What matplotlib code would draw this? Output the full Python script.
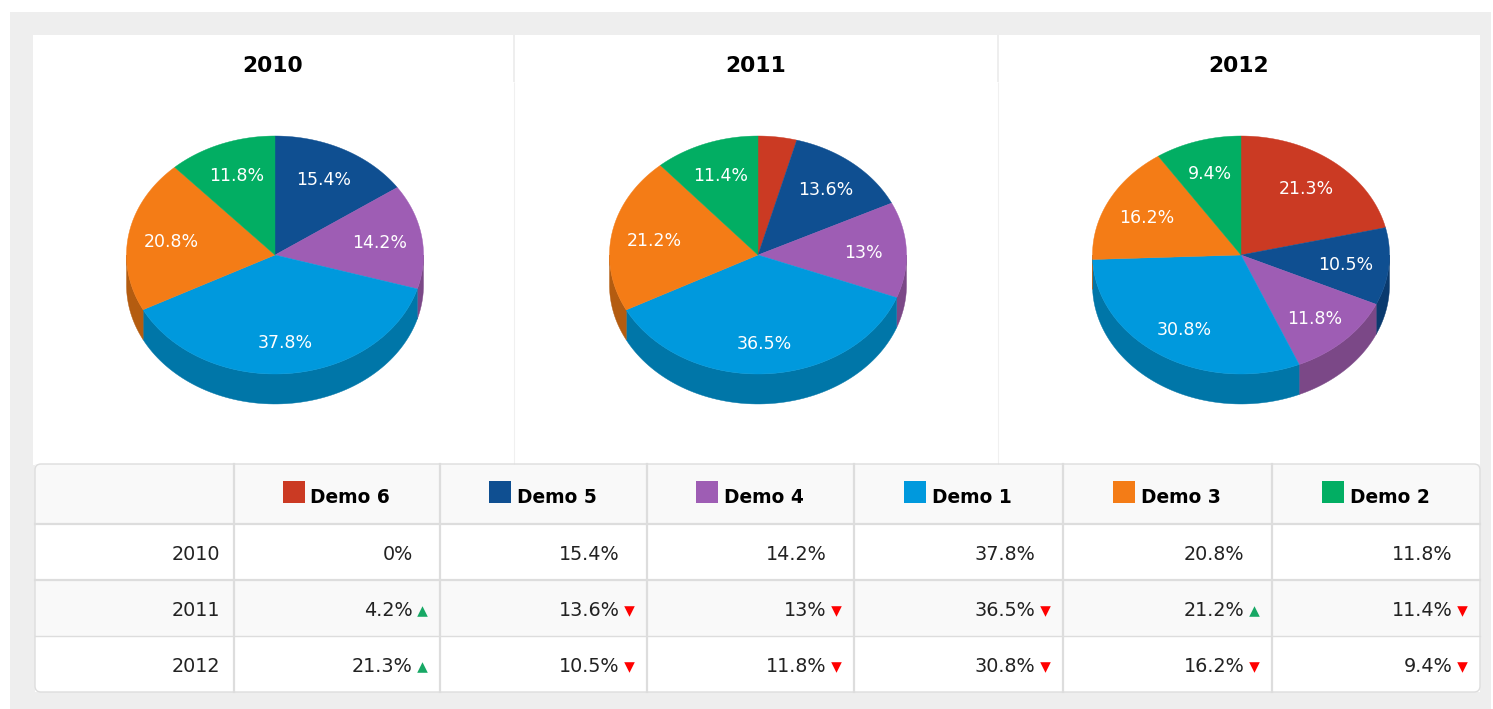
import numpy as np
import matplotlib
matplotlib.use('Agg')
import matplotlib.pyplot as plt
from matplotlib.patches import Polygon, Rectangle, FancyBboxPatch

# Shares per year, in series order
years = ['2010', '2011', '2012']
series = ['Demo 6', 'Demo 5', 'Demo 4', 'Demo 1', 'Demo 3', 'Demo 2']
demo6 = [0, 4.2, 21.3]
demo5 = [15.4, 13.6, 10.5]
demo4 = [14.2, 13, 11.8]
demo1 = [37.8, 36.5, 30.8]
demo3 = [20.8, 21.2, 16.2]
demo2 = [11.8, 11.4, 9.4]
values = [demo6, demo5, demo4, demo1, demo3, demo2]

colors = ['#cb3a23', '#0f4f91', '#9e5db4', '#0099dd', '#f47c16', '#02ae63']
side_colors = ['#8e2918', '#0a3a6e', '#7b4887', '#0076a8', '#b45c10', '#018049']

centers = [275, 758, 1241]
center_y = 255
rx, ry = 148.5, 119
depth = 30

col_edges = [35, 234, 440, 647, 854, 1063, 1272, 1480]
row_edges = [464, 524, 580, 636, 692]


def fmt(v):
    return f'{v:g}%'


def ell(cx, theta):
    # theta is clockwise from the top, in degrees
    t = np.radians(theta)
    return cx + rx * np.sin(t), center_y - ry * np.cos(t)


fig = plt.figure(figsize=(14.93, 7.09), dpi=100)
ax = fig.add_axes([0, 0, 1, 1])
ax.set_xlim(0, 1493)
ax.set_ylim(709, 0)
ax.axis('off')

# page frame
ax.add_patch(Rectangle((10, 12), 1481, 697, fc='#eeeeee', ec='none'))
ax.add_patch(Rectangle((33, 35), 1447, 430, fc='white', ec='none'))
for x in [514, 998]:
    ax.plot([x, x], [35, 82], color='#eeeeee', lw=1.4, solid_capstyle='butt')
    ax.plot([x, x], [82, 464], color='#f0f0f0', lw=0.8, solid_capstyle='butt')

for y_i, year in enumerate(years):
    cx = centers[y_i]
    shares = [v[y_i] for v in values]
    edges = np.cumsum([0] + shares) / sum(shares) * 360

    ax.text(cx - 2.5, 65.5, year, ha='center', va='center',
            fontsize=15.7, fontweight='bold', color='black')

    # side wall, only the front half of the ellipse
    for i, share in enumerate(shares):
        a0 = max(edges[i], 90)
        a1 = min(edges[i + 1], 270)
        if a1 <= a0:
            continue
        th = np.linspace(a0, a1, 80)
        xs, ys = ell(cx, th)
        pts = np.r_[np.c_[xs, ys], np.c_[xs, ys + depth][::-1]]
        ax.add_patch(Polygon(pts, fc=side_colors[i], ec=side_colors[i], lw=0.3, zorder=2))

    # top face
    for i, share in enumerate(shares):
        if share == 0:
            continue
        th = np.linspace(edges[i], edges[i + 1], 100)
        xs, ys = ell(cx, th)
        pts = np.r_[[[cx, center_y]], np.c_[xs, ys]]
        ax.add_patch(Polygon(pts, fc=colors[i], ec=colors[i], lw=0.3, zorder=3))
        mid = (edges[i] + edges[i + 1]) / 2
        t = np.radians(mid)
        lx = cx + rx * 0.71 * np.sin(t)
        ly = center_y + 2 - ry * 0.73 * np.cos(t)
        if share >= 5:
            ax.text(lx, ly, fmt(share), ha='center', va='center', color='white',
                    fontsize=12.5, zorder=4)

# table
line = '#dddddd'
ax.add_patch(Rectangle((35, 464), 1445, 60, fc='#f9f9f9', ec='none', zorder=1))
ax.add_patch(Rectangle((35, 524), 1445, 56, fc='white', ec='none', zorder=1))
ax.add_patch(Rectangle((35, 580), 1445, 56, fc='#f9f9f9', ec='none', zorder=1))
ax.add_patch(Rectangle((35, 636), 1445, 56, fc='white', ec='none', zorder=1))
ax.add_patch(FancyBboxPatch((35, 464), 1445, 228, boxstyle='round,pad=0,rounding_size=6',
                            fc='none', ec=line, lw=1.0, zorder=5))
for x in col_edges[1:-1]:
    ax.plot([x, x], [464, 692], color=line, lw=1.6, zorder=5)
for y, lw in zip(row_edges[1:-1], [1.6, 1.6, 1.0]):
    ax.plot([35, 1480], [y, y], color=line, lw=lw, zorder=5)

for i, name in enumerate(series):
    left, right = col_edges[i + 1], col_edges[i + 2]
    mid = (left + right) / 2
    ax.add_patch(Rectangle((mid - 54.5, 481), 22, 22, fc=colors[i], ec='none', zorder=6))
    ax.text(mid - 26.5, 497.5, name, ha='left', va='center', fontsize=13.4,
            fontweight='bold', color='black', zorder=6)
    for r, year in enumerate(years):
        y = (row_edges[r + 1] + row_edges[r + 2]) / 2
        ax.text(right - 27.5, y + 2, fmt(values[i][r]), ha='right', va='center',
                fontsize=13.8, color='#222222', zorder=6)
        if r > 0:
            up = values[i][r] > values[i][r - 1]
            ax.scatter([right - 18], [y + 2.5], marker='^' if up else 'v', s=58,
                       color='#17a865' if up else '#ff0000', linewidths=0, zorder=6)

for r, year in enumerate(years):
    y = (row_edges[r + 1] + row_edges[r + 2]) / 2
    ax.text(220, y + 2, year, ha='right', va='center', fontsize=13.8, color='#222222', zorder=6)

fig.savefig('out.png', dpi=100)
